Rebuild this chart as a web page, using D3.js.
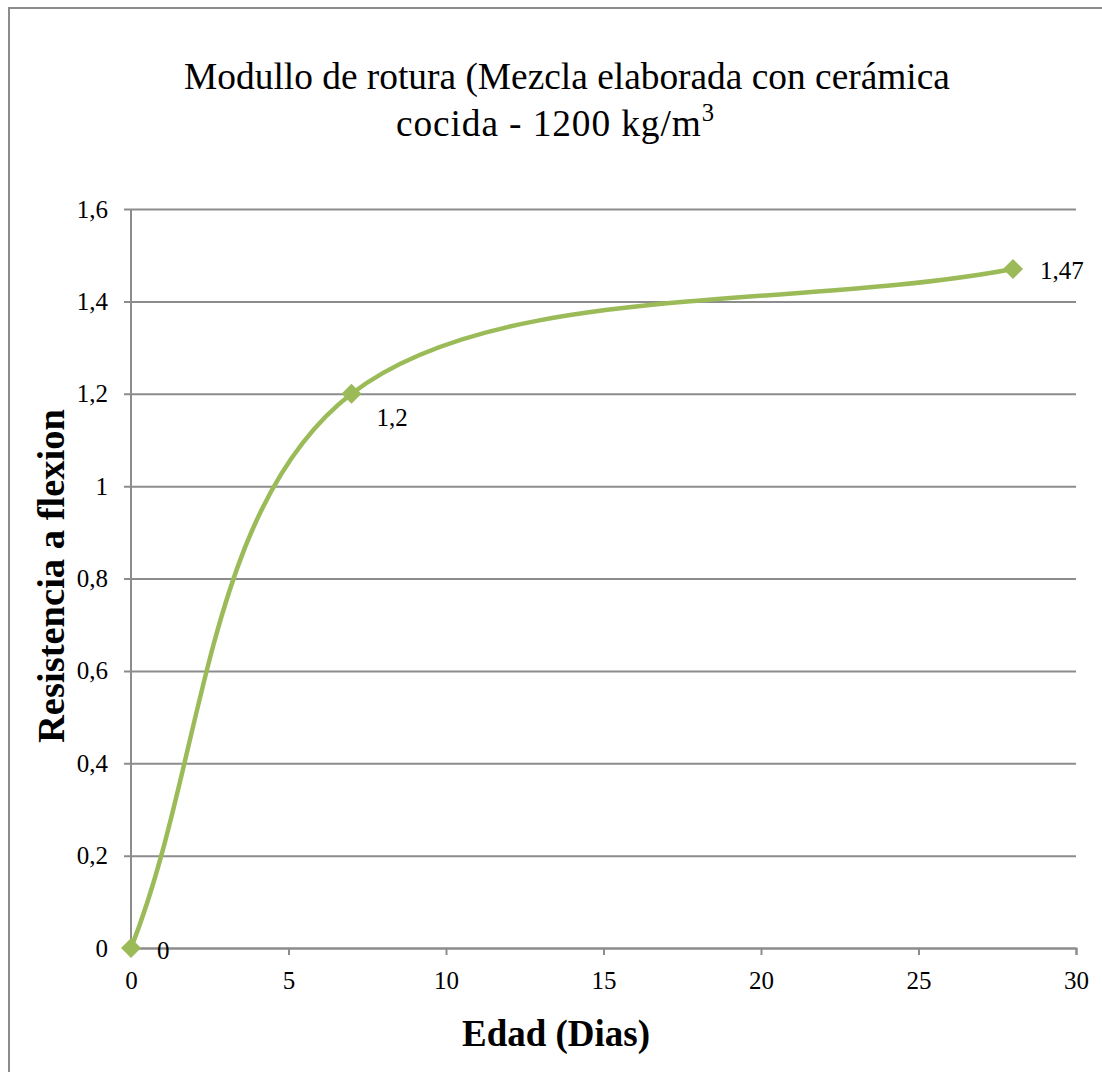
<!DOCTYPE html>
<html>
<head>
<meta charset="utf-8">
<script src="https://cdn.jsdelivr.net/npm/d3@7"></script>
</head>
<body style="margin:0">
<script>
// data
const dias = [0, 7, 28]
const resistencia = [0, 1.2, 1.47]
const etiquetas = ["0", "1,2", "1,47"]
const xTicks = [0, 5, 10, 15, 20, 25, 30]
const yTicks = [0, 0.2, 0.4, 0.6, 0.8, 1, 1.2, 1.4, 1.6]

var w = 1102
var h = 1072
var pLeft = 131, pRight = 1076, pTop = 209, pBottom = 948
var green = "#9bbb59"
var grey = "#8c8c8c"
var font = '"Liberation Serif"'

var svg = d3.select("body")
            .append("svg")
            .attr("width", w)
            .attr("height", h)

// chart border (right/bottom edges fall outside the picture)
svg.append("rect")
    .attr("x", 9).attr("y", 8)
    .attr("width", 1120).attr("height", 1100)
    .attr("fill", "none")
    .attr("stroke", grey)
    .attr("stroke-width", 2)

const xScale = d3.scaleLinear()
    .domain([0, 30])
    .range([pLeft, pRight])

const yScale = d3.scaleLinear()
    .domain([0, 1.6])
    .range([pBottom, pTop])

const fmt = d => String(+d.toFixed(1)).replace(".", ",")

// horizontal gridlines + y axis
const yAxis = d3.axisLeft(yScale)
    .tickValues(yTicks)
    .tickSize(-(pRight - pLeft))
    .tickPadding(23)
    .tickFormat(fmt)

const gy = svg.append("g")
    .attr("transform", `translate(${pLeft},0)`)
    .call(yAxis)
gy.select(".domain").remove()
gy.selectAll("line")
    .attr("x1", -7)
    .attr("stroke", grey)
    .attr("stroke-width", 2)
gy.selectAll("text")
    .style("font-family", font)
    .style("font-size", "25px")
    .attr("fill", "#000")

// vertical axis line
svg.append("line")
    .attr("x1", pLeft).attr("x2", pLeft)
    .attr("y1", pTop).attr("y2", pBottom)
    .attr("stroke", grey)
    .attr("stroke-width", 2)

// x axis
const xAxis = d3.axisBottom(xScale)
    .tickValues(xTicks)
    .tickSizeOuter(0)
    .tickSize(7)
    .tickPadding(16)
const gx = svg.append("g")
    .attr("transform", `translate(0,${pBottom})`)
    .call(xAxis)
gx.select(".domain").attr("stroke", grey).attr("stroke-width", 2)
gx.selectAll("line").attr("stroke", grey).attr("stroke-width", 2)
gx.selectAll("text")
    .style("font-family", font)
    .style("font-size", "25px")
    .attr("fill", "#000")

// Excel-like smoothing: Catmull-Rom bezier, end points reflected
function smoothCurve(context) {
    var pts = []
    return {
        areaStart() {}, areaEnd() {},
        lineStart() { pts = [] },
        point(x, y) { pts.push([+x, +y]) },
        lineEnd() {
            var n = pts.length
            if (!n) return
            var first = [2 * pts[0][0] - pts[1][0], 2 * pts[0][1] - pts[1][1]]
            var last = [2 * pts[n-1][0] - pts[n-2][0], 2 * pts[n-1][1] - pts[n-2][1]]
            var p = [first].concat(pts, [last])
            context.moveTo(pts[0][0], pts[0][1])
            for (var i = 0; i < n - 1; i++) {
                var a = p[i], b = p[i+1], c = p[i+2], d = p[i+3]
                context.bezierCurveTo(
                    b[0] + (c[0] - a[0]) / 6, b[1] + (c[1] - a[1]) / 6,
                    c[0] - (d[0] - b[0]) / 6, c[1] - (d[1] - b[1]) / 6,
                    c[0], c[1])
            }
        }
    }
}

const pts = dias.map((d, i) => [d, resistencia[i]])
const line = d3.line()
    .x(d => xScale(d[0]))
    .y(d => yScale(d[1]))
    .curve(smoothCurve)

svg.append("path")
    .datum(pts)
    .attr("d", line)
    .attr("fill", "none")
    .attr("stroke", green)
    .attr("stroke-width", 4.5)

// diamond markers
svg.selectAll(".marker")
    .data(pts)
    .enter()
    .append("path")
    .attr("class", "marker")
    .attr("d", d3.symbol().type(d3.symbolSquare).size(200))
    .attr("transform", d => `translate(${xScale(d[0])},${yScale(d[1])}) rotate(45)`)
    .attr("fill", green)

// data labels
const dx = [26, 25, 27], dy = [11, 32, 10]
svg.selectAll(".lbl")
    .data(pts)
    .enter()
    .append("text")
    .attr("class", "lbl")
    .attr("x", (d, i) => xScale(d[0]) + dx[i])
    .attr("y", (d, i) => yScale(d[1]) + dy[i])
    .style("font-family", font)
    .style("font-size", "25px")
    .text((d, i) => etiquetas[i])

// fit a text to a given width by font size
function fit(sel, width) {
    var len = sel.node().getComputedTextLength()
    var fs = parseFloat(sel.style("font-size"))
    sel.style("font-size", (fs * width / len) + "px")
}

// title
const title = svg.append("text")
    .attr("text-anchor", "middle")
    .style("font-family", font)
    .style("font-size", "36px")
    .attr("x", 567).attr("y", 89)
    .text("Modullo de rotura (Mezcla elaborada con cerámica")
fit(title, 766)
const fsT = parseFloat(title.style("font-size"))

const t2 = svg.append("text")
    .attr("text-anchor", "middle")
    .style("font-family", font)
    .style("font-size", fsT + "px")
    .attr("x", 555).attr("y", 136)
const t2a = t2.append("tspan").text("cocida - 1200 kg/m")
t2.append("tspan").attr("dy", -15).style("font-size", (fsT * 0.66) + "px").text("3")
// widen the second line a little, as in the original
var l2 = t2.node().getComputedTextLength()
t2a.attr("letter-spacing", ((318 - l2) / 18) + "px")

// axis titles
const xt = svg.append("text")
    .attr("x", 556).attr("y", 1046)
    .attr("text-anchor", "middle")
    .style("font-family", font)
    .style("font-size", "33px")
    .style("font-weight", "bold")
    .text("Edad (Dias)")
fit(xt, 188)

const yt = svg.append("text")
    .attr("transform", "translate(64,576) rotate(-90)")
    .attr("text-anchor", "middle")
    .style("font-family", font)
    .style("font-size", "33px")
    .style("font-weight", "bold")
    .text("Resistencia a flexion")
fit(yt, 334)
</script>
</body>
</html>
